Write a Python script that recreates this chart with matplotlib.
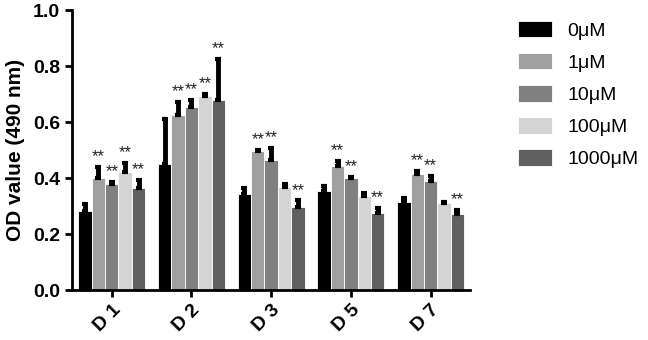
import matplotlib

matplotlib.use("Agg")
import matplotlib.pyplot as plt
import numpy as np

plt.rcParams["font.family"] = ["Liberation Sans", "DejaVu Sans"]

days = ["D 1", "D 2", "D 3", "D 5", "D 7"]
doses = ["0μM", "1μM", "10μM", "100μM", "1000μM"]
colors = ["#000000", "#a0a0a0", "#808080", "#d4d4d4", "#606060"]

# mean OD per dose (rows) and day (columns)
means = np.array([
    [0.282, 0.449, 0.343, 0.355, 0.316],
    [0.400, 0.625, 0.496, 0.443, 0.414],
    [0.379, 0.655, 0.464, 0.400, 0.389],
    [0.420, 0.693, 0.367, 0.336, 0.310],
    [0.365, 0.679, 0.297, 0.276, 0.270],
])
errs = np.array([
    [0.025, 0.161, 0.021, 0.016, 0.013],
    [0.040, 0.048, 0.006, 0.017, 0.011],
    [0.006, 0.024, 0.043, 0.005, 0.018],
    [0.033, 0.008, 0.011, 0.010, 0.006],
    [0.027, 0.147, 0.023, 0.018, 0.016],
])
# significance marks (1 = "**")
sig = np.array([
    [0, 0, 0, 0, 0],
    [1, 1, 1, 1, 1],
    [1, 1, 1, 1, 1],
    [1, 1, 0, 0, 0],
    [1, 1, 1, 1, 1],
])

fig = plt.figure(figsize=(6.48, 3.4), dpi=100)
ax = fig.add_axes([0.111, 0.147, 0.615, 0.823])

x = np.arange(len(days))
width = 0.168
for i in range(len(doses)):
    pos = x + (i - 2) * width
    ax.bar(pos, means[i], width, color=colors[i], edgecolor="white",
           linewidth=0.6, label=doses[i], zorder=2)
    ax.errorbar(pos, means[i], yerr=[np.zeros(len(days)), errs[i]], fmt="none",
                ecolor="black", elinewidth=3.5, capsize=2, capthick=3, zorder=3)
    for j in range(len(days)):
        if sig[i, j]:
            ax.text(pos[j], means[i, j] + errs[i, j] + 0.01, "**", ha="center",
                    va="bottom", fontsize=12, color="#222222")

ax.set_xlim(-0.5, len(days) - 0.5)
ax.set_ylim(0, 1.0)
ax.set_yticks(np.arange(0, 1.01, 0.2))
ax.set_yticklabels([f"{v:.1f}" for v in np.arange(0, 1.01, 0.2)], fontsize=14,
                   fontweight="bold")
ax.set_xticks(x)
ax.set_xticklabels(days, rotation=45, fontsize=14, fontweight="bold",
                   ha="right", rotation_mode="anchor")
ax.set_ylabel("OD value (490 nm)", fontsize=15, fontweight="bold", labelpad=6)
ax.spines["top"].set_visible(False)
ax.spines["right"].set_visible(False)
ax.spines["left"].set_linewidth(2)
ax.spines["bottom"].set_linewidth(2)
ax.tick_params(width=2, length=5, direction="out")

ax.legend(loc="upper left", bbox_to_anchor=(1.075, 1.025), frameon=False,
          fontsize=14, handlelength=1.75, handleheight=0.93, labelspacing=0.68,
          handletextpad=0.8)

fig.savefig("out.png", dpi=100)
